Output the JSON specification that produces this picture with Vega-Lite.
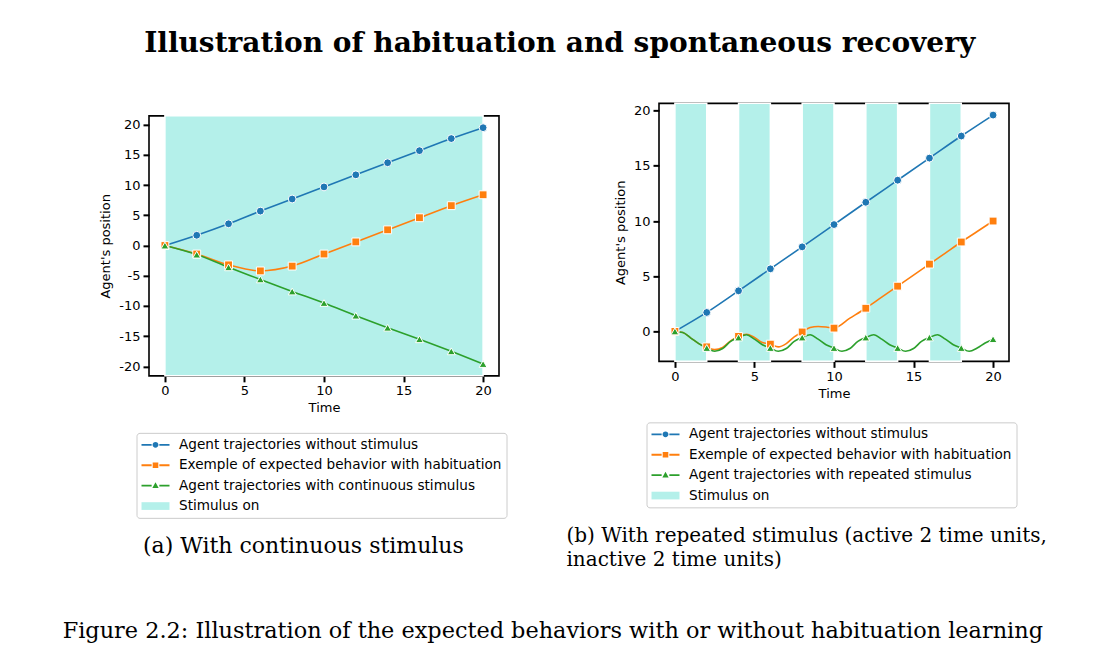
{
  "$schema": "https://vega.github.io/schema/vega-lite/v6.json",
  "padding": {"left": 62, "top": 29, "right": 0, "bottom": 0},
  "background": "white",
  "datasets": {
    "lines": [
      {"p": "a", "s": "without", "t": 0, "y": 0}, {"p": "a", "s": "without", "t": 2, "y": 1.7}, {"p": "a", "s": "without", "t": 4, "y": 3.6}, {"p": "a", "s": "without", "t": 6, "y": 5.7}, {"p": "a", "s": "without", "t": 8, "y": 7.7}, {"p": "a", "s": "without", "t": 10, "y": 9.7}, {"p": "a", "s": "without", "t": 12, "y": 11.7}, {"p": "a", "s": "without", "t": 14, "y": 13.7}, {"p": "a", "s": "without", "t": 16, "y": 15.7}, {"p": "a", "s": "without", "t": 18, "y": 17.7}, {"p": "a", "s": "without", "t": 20, "y": 19.5},
      {"p": "a", "s": "habituation", "t": 0, "y": 0}, {"p": "a", "s": "habituation", "t": 2, "y": -1.4}, {"p": "a", "s": "habituation", "t": 4, "y": -3.2}, {"p": "a", "s": "habituation", "t": 6, "y": -4.2}, {"p": "a", "s": "habituation", "t": 8, "y": -3.4}, {"p": "a", "s": "habituation", "t": 10, "y": -1.4}, {"p": "a", "s": "habituation", "t": 12, "y": 0.6}, {"p": "a", "s": "habituation", "t": 14, "y": 2.6}, {"p": "a", "s": "habituation", "t": 16, "y": 4.6}, {"p": "a", "s": "habituation", "t": 18, "y": 6.6}, {"p": "a", "s": "habituation", "t": 20, "y": 8.4},
      {"p": "a", "s": "with", "t": 0, "y": 0}, {"p": "a", "s": "with", "t": 2, "y": -1.5}, {"p": "a", "s": "with", "t": 4, "y": -3.6}, {"p": "a", "s": "with", "t": 6, "y": -5.6}, {"p": "a", "s": "with", "t": 8, "y": -7.6}, {"p": "a", "s": "with", "t": 10, "y": -9.5}, {"p": "a", "s": "with", "t": 12, "y": -11.6}, {"p": "a", "s": "with", "t": 14, "y": -13.6}, {"p": "a", "s": "with", "t": 16, "y": -15.5}, {"p": "a", "s": "with", "t": 18, "y": -17.5}, {"p": "a", "s": "with", "t": 20, "y": -19.6},
      {"p": "b", "s": "without", "t": 0, "y": 0}, {"p": "b", "s": "without", "t": 2, "y": 1.72}, {"p": "b", "s": "without", "t": 4, "y": 3.68}, {"p": "b", "s": "without", "t": 6, "y": 5.67}, {"p": "b", "s": "without", "t": 8, "y": 7.66}, {"p": "b", "s": "without", "t": 10, "y": 9.68}, {"p": "b", "s": "without", "t": 12, "y": 11.7}, {"p": "b", "s": "without", "t": 14, "y": 13.7}, {"p": "b", "s": "without", "t": 16, "y": 15.7}, {"p": "b", "s": "without", "t": 18, "y": 17.7}, {"p": "b", "s": "without", "t": 20, "y": 19.6},
      {"p": "b", "s": "habituation", "t": 0, "y": 0}, {"p": "b", "s": "habituation", "t": 0.5, "y": -0.1}, {"p": "b", "s": "habituation", "t": 1, "y": -0.6}, {"p": "b", "s": "habituation", "t": 1.5, "y": -1.1}, {"p": "b", "s": "habituation", "t": 2, "y": -1.4}, {"p": "b", "s": "habituation", "t": 2.5, "y": -1.65}, {"p": "b", "s": "habituation", "t": 3, "y": -1.45}, {"p": "b", "s": "habituation", "t": 3.5, "y": -0.85}, {"p": "b", "s": "habituation", "t": 4, "y": -0.45}, {"p": "b", "s": "habituation", "t": 4.5, "y": -0.25}, {"p": "b", "s": "habituation", "t": 5, "y": -0.55}, {"p": "b", "s": "habituation", "t": 5.5, "y": -1.0}, {"p": "b", "s": "habituation", "t": 6, "y": -1.15}, {"p": "b", "s": "habituation", "t": 6.5, "y": -1.4}, {"p": "b", "s": "habituation", "t": 7, "y": -1.1}, {"p": "b", "s": "habituation", "t": 7.5, "y": -0.5}, {"p": "b", "s": "habituation", "t": 8, "y": -0.05}, {"p": "b", "s": "habituation", "t": 8.5, "y": 0.35}, {"p": "b", "s": "habituation", "t": 9, "y": 0.45}, {"p": "b", "s": "habituation", "t": 9.5, "y": 0.4}, {"p": "b", "s": "habituation", "t": 10, "y": 0.3}, {"p": "b", "s": "habituation", "t": 11, "y": 1.2}, {"p": "b", "s": "habituation", "t": 12, "y": 2.1}, {"p": "b", "s": "habituation", "t": 13, "y": 3.1}, {"p": "b", "s": "habituation", "t": 14, "y": 4.1}, {"p": "b", "s": "habituation", "t": 15, "y": 5.1}, {"p": "b", "s": "habituation", "t": 16, "y": 6.1}, {"p": "b", "s": "habituation", "t": 17, "y": 7.1}, {"p": "b", "s": "habituation", "t": 18, "y": 8.1}, {"p": "b", "s": "habituation", "t": 19, "y": 9.05}, {"p": "b", "s": "habituation", "t": 20, "y": 10.0},
      {"p": "b", "s": "with", "t": 0, "y": 0}, {"p": "b", "s": "with", "t": 0.5, "y": -0.1}, {"p": "b", "s": "with", "t": 1, "y": -0.6}, {"p": "b", "s": "with", "t": 1.5, "y": -1.1}, {"p": "b", "s": "with", "t": 2, "y": -1.5}, {"p": "b", "s": "with", "t": 2.5, "y": -1.8}, {"p": "b", "s": "with", "t": 3, "y": -1.55}, {"p": "b", "s": "with", "t": 3.5, "y": -0.9}, {"p": "b", "s": "with", "t": 4, "y": -0.55}, {"p": "b", "s": "with", "t": 4.5, "y": -0.3}, {"p": "b", "s": "with", "t": 5, "y": -0.7}, {"p": "b", "s": "with", "t": 5.5, "y": -1.2}, {"p": "b", "s": "with", "t": 6, "y": -1.5}, {"p": "b", "s": "with", "t": 6.5, "y": -1.8}, {"p": "b", "s": "with", "t": 7, "y": -1.55}, {"p": "b", "s": "with", "t": 7.5, "y": -0.9}, {"p": "b", "s": "with", "t": 8, "y": -0.55}, {"p": "b", "s": "with", "t": 8.5, "y": -0.3}, {"p": "b", "s": "with", "t": 9, "y": -0.7}, {"p": "b", "s": "with", "t": 9.5, "y": -1.2}, {"p": "b", "s": "with", "t": 10, "y": -1.5}, {"p": "b", "s": "with", "t": 10.5, "y": -1.8}, {"p": "b", "s": "with", "t": 11, "y": -1.55}, {"p": "b", "s": "with", "t": 11.5, "y": -0.9}, {"p": "b", "s": "with", "t": 12, "y": -0.55}, {"p": "b", "s": "with", "t": 12.5, "y": -0.3}, {"p": "b", "s": "with", "t": 13, "y": -0.7}, {"p": "b", "s": "with", "t": 13.5, "y": -1.2}, {"p": "b", "s": "with", "t": 14, "y": -1.5}, {"p": "b", "s": "with", "t": 14.5, "y": -1.8}, {"p": "b", "s": "with", "t": 15, "y": -1.55}, {"p": "b", "s": "with", "t": 15.5, "y": -0.9}, {"p": "b", "s": "with", "t": 16, "y": -0.55}, {"p": "b", "s": "with", "t": 16.5, "y": -0.3}, {"p": "b", "s": "with", "t": 17, "y": -0.7}, {"p": "b", "s": "with", "t": 17.5, "y": -1.2}, {"p": "b", "s": "with", "t": 18, "y": -1.5}, {"p": "b", "s": "with", "t": 18.5, "y": -1.8}, {"p": "b", "s": "with", "t": 19, "y": -1.5}, {"p": "b", "s": "with", "t": 19.5, "y": -1.05}, {"p": "b", "s": "with", "t": 20, "y": -0.7}
    ],
    "bands": [
      {"p": "a", "s": "stimulus", "t": 0, "t2": 20},
      {"p": "b", "s": "stimulus", "t": 0, "t2": 2},
      {"p": "b", "s": "stimulus", "t": 4, "t2": 6},
      {"p": "b", "s": "stimulus", "t": 8, "t2": 10},
      {"p": "b", "s": "stimulus", "t": 12, "t2": 14},
      {"p": "b", "s": "stimulus", "t": 16, "t2": 18}
    ]
  },
  "title": {
    "text": "Illustration of habituation and spontaneous recovery",
    "anchor": "middle",
    "font": "DejaVu Serif",
    "fontSize": 28,
    "fontWeight": "bold",
    "color": "black",
    "offset": 44,
    "dx": 4.5
  },
  "vconcat": [
    {
      "title": {
        "text": "Figure 2.2: Illustration of the expected behaviors with or without habituation learning",
        "orient": "bottom",
        "anchor": "middle",
        "font": "DejaVu Serif",
        "fontSize": 22.4,
        "fontWeight": "normal",
        "color": "black",
        "offset": 49,
        "dx": -20.5
      },
      "center": true,
      "spacing": 57,
      "resolve": {"scale": {"color": "independent", "x": "independent", "y": "independent", "shape": "independent"}, "legend": {"color": "independent"}},
      "hconcat": [
        {
          "width": 350,
          "height": 260,
          "title": {
            "text": "(a) With continuous stimulus",
            "orient": "bottom",
            "anchor": "middle",
            "frame": "bounds",
            "font": "DejaVu Serif",
            "fontSize": 22,
            "fontWeight": "normal",
            "color": "black",
            "offset": 18
          },
          "encoding": {
            "x": {"field": "t", "type": "quantitative", "scale": {"domain": [-1, 21], "nice": false, "zero": false}, "axis": {"values": [0, 5, 10, 15, 20], "title": "Time"}},
            "color": {
              "field": "s", "type": "nominal",
              "scale": {"domain": ["without", "habituation", "with", "stimulus"], "range": ["#1f77b4", "#ff7f0e", "#2ca02c", "#b4f0ea"]},
              "legend": {
                "orient": "none", "legendX": -12.5, "legendY": 317, "direction": "vertical", "title": null,
                "symbolSize": 196, "labelOffset": 23.5, "rowPadding": 6.4, "padding": 5,
                "strokeColor": "#cccccc", "fillColor": "white", "cornerRadius": 3,
                "labelFont": "DejaVu Sans", "labelFontSize": 13.6, "labelColor": "black", "labelLimit": 0,
                "labelExpr": "datum.value === 'without' ? 'Agent trajectories without stimulus' : datum.value === 'habituation' ? 'Exemple of expected behavior with habituation' : datum.value === 'with' ? 'Agent trajectories with continuous stimulus' : 'Stimulus on'",
                "encode": {"symbols": {"update": {
                  "shape": {"signal": "datum.value === 'stimulus' ? 'M-1,-0.55H3V0.55H-1Z' : datum.value === 'without' ? 'M-1,-0.13H0.45V0.13H-1Z M1.55,-0.13H3V0.13H1.55Z M1.42,0A0.42,0.42 0 1,1 0.58,0A0.42,0.42 0 1,1 1.42,0Z' : datum.value === 'habituation' ? 'M-1,-0.13H0.45V0.13H-1Z M1.55,-0.13H3V0.13H1.55Z M0.6,-0.4H1.4V0.4H0.6Z' : 'M-1,-0.13H0.45V0.13H-1Z M1.55,-0.13H3V0.13H1.55Z M1,-0.48L1.45,0.35H0.55Z'"},
                  "fill": {"signal": "datum.value === 'stimulus' ? '#c2f3ee' : datum.value === 'without' ? '#1f77b4' : datum.value === 'habituation' ? '#ff7f0e' : '#2ca02c'"},
                  "stroke": {"value": "transparent"},
                  "strokeWidth": {"value": 0},
                  "opacity": {"value": 1}
                }}}
              }
            }
          },
          "layer": [
            {
              "data": {"name": "bands"},
              "transform": [{"filter": "datum.p === 'a'"}],
              "mark": {"type": "rect", "opacity": 1, "stroke": "white", "strokeWidth": 1.5},
              "encoding": {"x2": {"field": "t2"}}
            },
            {
              "data": {"name": "lines"},
              "transform": [{"filter": "datum.p === 'a'"}],
              "mark": {"type": "line", "interpolate": "monotone", "strokeWidth": 1.6},
              "encoding": {
                "y": {"field": "y", "type": "quantitative", "scale": {"domain": [-21.56, 21.46], "nice": false, "zero": false}, "axis": {"values": [-20, -15, -10, -5, 0, 5, 10, 15, 20], "title": "Agent's position", "labelExpr": "'' + datum.value"}},
                "order": {"field": "t", "type": "quantitative"}
              }
            },
            {
              "data": {"name": "lines"},
              "transform": [{"filter": "datum.p === 'a' && datum.t % 2 === 0"}],
              "mark": {"type": "point", "filled": true, "opacity": 1, "size": 62, "stroke": "white", "strokeWidth": 1},
              "encoding": {
                "y": {"field": "y", "type": "quantitative", "scale": {"domain": [-21.56, 21.46], "nice": false, "zero": false}, "axis": {"values": [-20, -15, -10, -5, 0, 5, 10, 15, 20], "title": "Agent's position", "labelExpr": "'' + datum.value"}},
                "shape": {"field": "s", "type": "nominal", "scale": {"domain": ["without", "habituation", "with"], "range": ["circle", "square", "triangle-up"]}, "legend": null}
              }
            }
          ]
        },
        {
          "width": 350,
          "height": 258,
          "title": {
            "text": ["(b) With repeated stimulus (active 2 time units,", "inactive 2 time units)"],
            "orient": "bottom",
            "anchor": "start",
            "frame": "bounds",
            "font": "DejaVu Serif",
            "fontSize": 20,
            "fontWeight": "normal",
            "color": "black",
            "lineHeight": 24,
            "offset": 18,
            "dx": -48
          },
          "encoding": {
            "x": {"field": "t", "type": "quantitative", "scale": {"domain": [-1, 21], "nice": false, "zero": false}, "axis": {"values": [0, 5, 10, 15, 20], "title": "Time"}},
            "color": {
              "field": "s", "type": "nominal",
              "scale": {"domain": ["without", "habituation", "with", "stimulus"], "range": ["#1f77b4", "#ff7f0e", "#2ca02c", "#b4f0ea"]},
              "legend": {
                "orient": "none", "legendX": -12.5, "legendY": 319, "direction": "vertical", "title": null,
                "symbolSize": 196, "labelOffset": 23.5, "rowPadding": 6.4, "padding": 5,
                "strokeColor": "#cccccc", "fillColor": "white", "cornerRadius": 3,
                "labelFont": "DejaVu Sans", "labelFontSize": 13.6, "labelColor": "black", "labelLimit": 0,
                "labelExpr": "datum.value === 'without' ? 'Agent trajectories without stimulus' : datum.value === 'habituation' ? 'Exemple of expected behavior with habituation' : datum.value === 'with' ? 'Agent trajectories with repeated stimulus' : 'Stimulus on'",
                "encode": {"symbols": {"update": {
                  "shape": {"signal": "datum.value === 'stimulus' ? 'M-1,-0.55H3V0.55H-1Z' : datum.value === 'without' ? 'M-1,-0.13H0.45V0.13H-1Z M1.55,-0.13H3V0.13H1.55Z M1.42,0A0.42,0.42 0 1,1 0.58,0A0.42,0.42 0 1,1 1.42,0Z' : datum.value === 'habituation' ? 'M-1,-0.13H0.45V0.13H-1Z M1.55,-0.13H3V0.13H1.55Z M0.6,-0.4H1.4V0.4H0.6Z' : 'M-1,-0.13H0.45V0.13H-1Z M1.55,-0.13H3V0.13H1.55Z M1,-0.48L1.45,0.35H0.55Z'"},
                  "fill": {"signal": "datum.value === 'stimulus' ? '#c2f3ee' : datum.value === 'without' ? '#1f77b4' : datum.value === 'habituation' ? '#ff7f0e' : '#2ca02c'"},
                  "stroke": {"value": "transparent"},
                  "strokeWidth": {"value": 0},
                  "opacity": {"value": 1}
                }}}
              }
            }
          },
          "layer": [
            {
              "data": {"name": "bands"},
              "transform": [{"filter": "datum.p === 'b'"}],
              "mark": {"type": "rect", "opacity": 1, "stroke": "white", "strokeWidth": 1.5},
              "encoding": {"x2": {"field": "t2"}}
            },
            {
              "data": {"name": "lines"},
              "transform": [{"filter": "datum.p === 'b'"}],
              "mark": {"type": "line", "interpolate": "monotone", "strokeWidth": 1.6},
              "encoding": {
                "y": {"field": "y", "type": "quantitative", "scale": {"domain": [-2.71, 20.66], "nice": false, "zero": false}, "axis": {"values": [0, 5, 10, 15, 20], "title": "Agent's position", "labelExpr": "'' + datum.value"}},
                "order": {"field": "t", "type": "quantitative"}
              }
            },
            {
              "data": {"name": "lines"},
              "transform": [{"filter": "datum.p === 'b' && datum.t % 2 === 0"}],
              "mark": {"type": "point", "filled": true, "opacity": 1, "size": 62, "stroke": "white", "strokeWidth": 1},
              "encoding": {
                "y": {"field": "y", "type": "quantitative", "scale": {"domain": [-2.71, 20.66], "nice": false, "zero": false}, "axis": {"values": [0, 5, 10, 15, 20], "title": "Agent's position", "labelExpr": "'' + datum.value"}},
                "shape": {"field": "s", "type": "nominal", "scale": {"domain": ["without", "habituation", "with"], "range": ["circle", "square", "triangle-up"]}, "legend": null}
              }
            }
          ]
        }
      ]
    }
  ],
  "config": {
    "view": {"stroke": "black", "strokeWidth": 1.6},
    "axis": {
      "grid": false, "domain": false, "labelOverlap": false,
      "labelFont": "DejaVu Sans", "labelFontSize": 13, "labelColor": "black", "labelPadding": 3,
      "titleFont": "DejaVu Sans", "titleFontSize": 13, "titleFontWeight": "normal", "titleColor": "black",
      "tickColor": "black", "tickSize": 6, "tickWidth": 2
    },
    "axisY": {"titlePadding": 6},
    "axisX": {"titlePadding": 4}
  }
}
